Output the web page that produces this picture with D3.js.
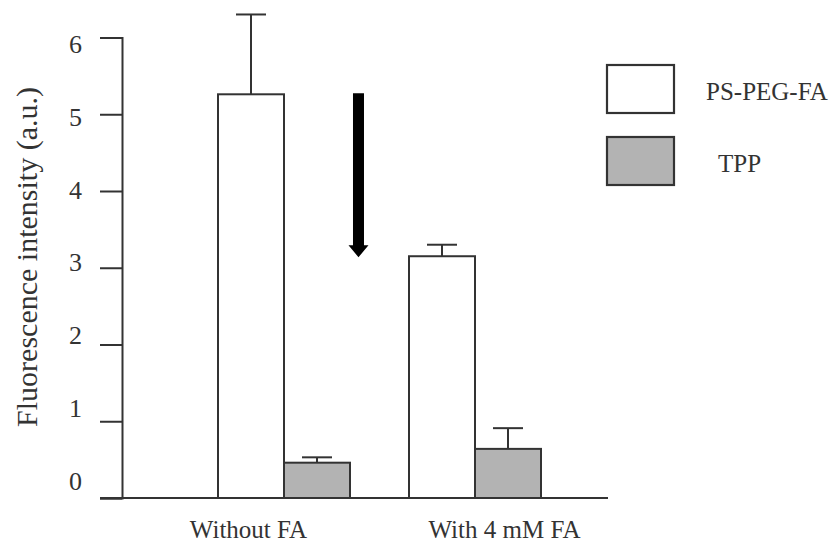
<!DOCTYPE html>
<html>
<head>
<meta charset="utf-8">
<script src="https://cdn.jsdelivr.net/npm/d3@7"></script>
<style>
  html, body { margin: 0; padding: 0; background: #fff; }
  svg text { font-family: "Liberation Serif", "Times New Roman", serif; fill: #333; }
</style>
</head>
<body>
<svg id="chart" width="835" height="550"></svg>
<script>
// ---- data ----
const categories = ["Without FA", "With 4 mM FA"];
const seriesNames = ["PS-PEG-FA", "TPP"];
const psValues = [5.26, 3.15];
const psErrors = [1.04, 0.15];
const tppValues = [0.46, 0.64];
const tppErrors = [0.07, 0.27];
const yTicks = [0, 1, 2, 3, 4, 5, 6];
const yTitle = "Fluorescence intensity (a.u.)";

const seriesColors = ["#ffffff", "#b3b3b3"];
const ink = "#333";
const serif = "'Liberation Serif', 'Times New Roman', serif";

const svg = d3.select("#chart");

// ---- scales ----
const y = d3.scaleLinear().domain([0, 6]).range([498, 37.5]);
const yLabel = d3.scaleLinear().domain([0, 6]).range([481, 44]);   // label placement of the original figure
const xGroup = d3.scalePoint().domain(categories).range([284, 475]);
const xSub = d3.scaleBand().domain(seriesNames).range([-66, 66]);
const xLabel = d3.scalePoint().domain(categories).range([248, 504]);
const color = d3.scaleOrdinal().domain(seriesNames).range(seriesColors);

const axisX0 = 122;

// ---- y axis ----
const yAxis = svg.append("g")
  .attr("transform", `translate(${axisX0},0)`)
  .call(d3.axisLeft(y).tickValues(yTicks).tickFormat(d3.format("d")).tickSize(22).tickPadding(18));
yAxis.attr("font-family", serif);
yAxis.selectAll("path.domain").attr("stroke", ink).attr("stroke-width", 2);
yAxis.selectAll(".tick line").attr("stroke", ink).attr("stroke-width", 2);
yAxis.selectAll(".tick text")
  .attr("font-size", 26)
  .attr("font-family", serif)
  .attr("fill", ink)
  .attr("y", d => yLabel(d) - y(d))
  .attr("dy", "0.32em");

// ---- x axis ----
svg.append("line")
  .attr("x1", 100).attr("x2", 608)
  .attr("y1", y(0)).attr("y2", y(0))
  .attr("stroke", ink).attr("stroke-width", 2);
const xAxis = svg.append("g")
  .attr("transform", `translate(0,${y(0)})`)
  .call(d3.axisBottom(xLabel).tickSize(0).tickPadding(22));
xAxis.attr("font-family", serif);
xAxis.select("path.domain").remove();
xAxis.selectAll(".tick text").attr("font-size", 25).attr("font-family", serif).attr("fill", ink);

// ---- bars ----
const rows = [];
categories.forEach((c, i) => {
  rows.push({ cat: c, series: seriesNames[0], value: psValues[i], err: psErrors[i] });
  rows.push({ cat: c, series: seriesNames[1], value: tppValues[i], err: tppErrors[i] });
});

const barG = svg.append("g");
rows.forEach(d => {
  const x0 = xGroup(d.cat) + xSub(d.series);
  const w = xSub.bandwidth();
  const cx = x0 + w / 2;
  // error bar (upper only)
  barG.append("line")
    .attr("x1", cx).attr("x2", cx)
    .attr("y1", y(d.value)).attr("y2", y(d.value + d.err))
    .attr("stroke", ink).attr("stroke-width", 2);
  barG.append("line")
    .attr("x1", cx - 15).attr("x2", cx + 15)
    .attr("y1", y(d.value + d.err)).attr("y2", y(d.value + d.err))
    .attr("stroke", ink).attr("stroke-width", 2);
  barG.append("rect")
    .attr("x", x0).attr("y", y(d.value))
    .attr("width", w).attr("height", y(0) - y(d.value))
    .attr("fill", color(d.series))
    .attr("stroke", ink).attr("stroke-width", 2);
});

// ---- arrow annotation (from first to second PS-PEG-FA level) ----
const ax = xGroup(categories[0]) + 0.39 * (xGroup(categories[1]) - xGroup(categories[0]));
const aTop = y(psValues[0]) - 1;
const aBot = y(psValues[1]) + 1;
const headH = 12, headW = 10, shaftW = 5.5;
svg.append("path")
  .attr("d", `M${ax - shaftW},${aTop} H${ax + shaftW} V${aBot - headH} H${ax + headW} L${ax},${aBot} L${ax - headW},${aBot - headH} H${ax - shaftW} Z`)
  .attr("fill", "#000");

// ---- legend ----
const legend = svg.append("g");
const legRows = [{ name: seriesNames[0], y: 65, tx: 706 }, { name: seriesNames[1], y: 137, tx: 718 }];
legRows.forEach(r => {
  legend.append("rect")
    .attr("x", 607).attr("y", r.y)
    .attr("width", 67).attr("height", 48)
    .attr("fill", color(r.name))
    .attr("stroke", ink).attr("stroke-width", 2.2);
  legend.append("text")
    .attr("x", r.tx).attr("y", r.y + 35)
    .attr("font-size", 25)
    .attr("font-family", serif)
    .text(r.name);
});

// ---- y title ----
svg.append("text")
  .attr("transform", `translate(37,257) rotate(-90)`)
  .attr("text-anchor", "middle")
  .attr("font-size", 30)
  .attr("font-family", serif)
  .text(yTitle);
</script>
</body>
</html>
